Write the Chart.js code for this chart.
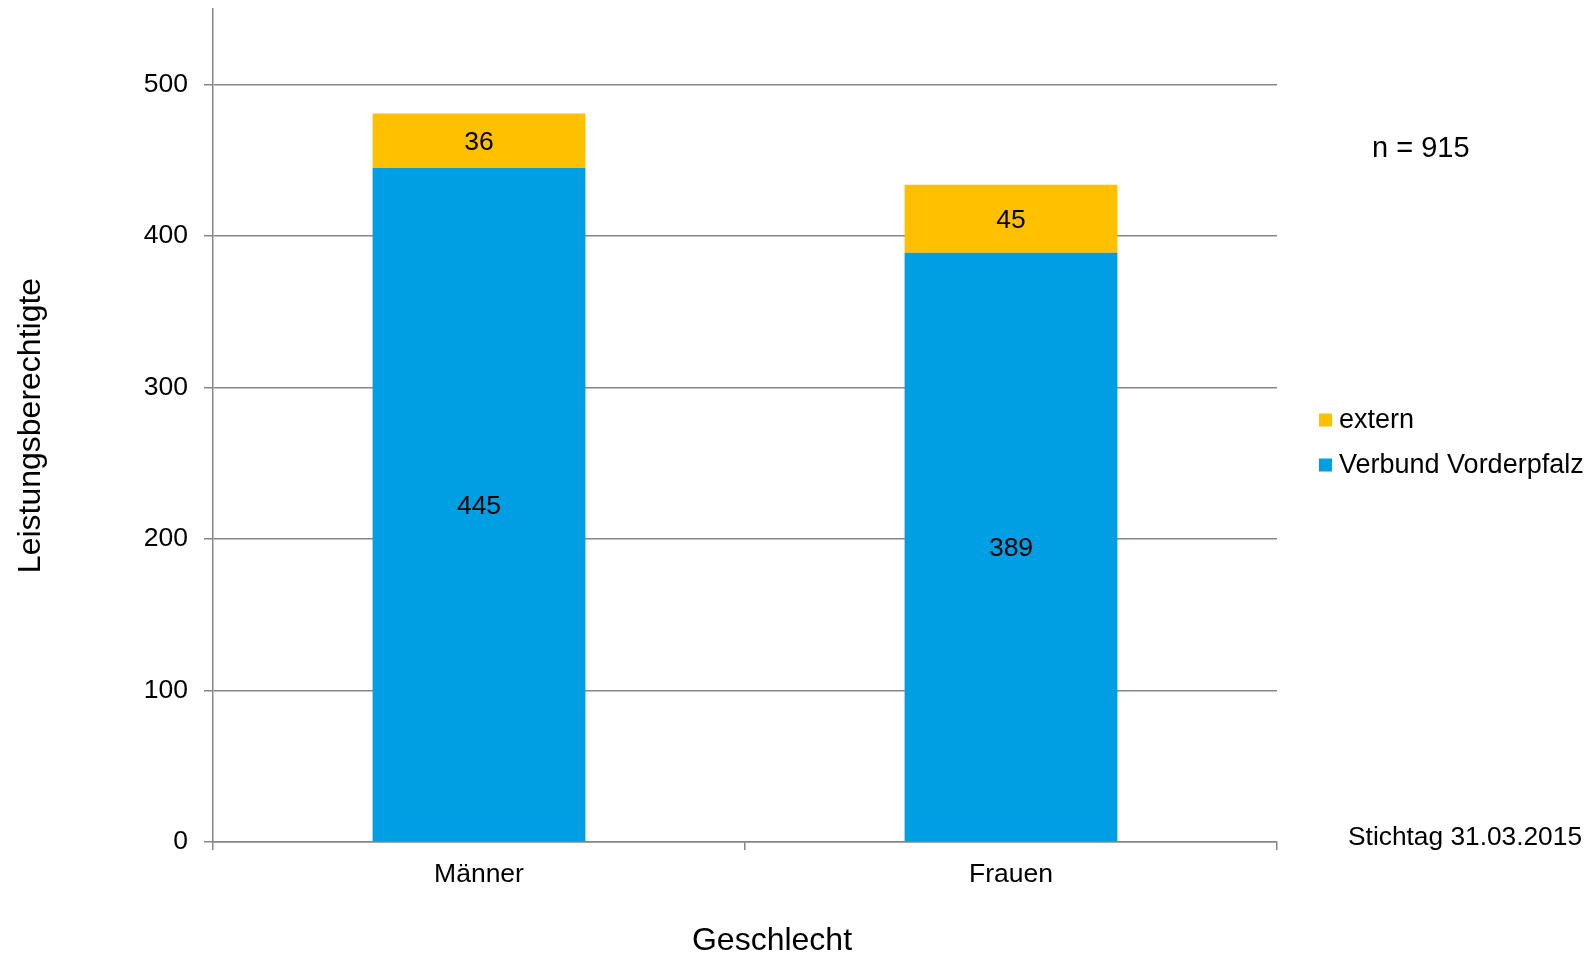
<!DOCTYPE html>
<html><head><meta charset="utf-8">
<script src="https://cdn.jsdelivr.net/npm/chart.js@4/dist/chart.umd.min.js"></script>
<style>html,body{margin:0;padding:0;background:#fff}#wrap{width:1589px;height:954px}</style>
</head><body><div id="wrap"><canvas id="c" width="1589" height="954"></canvas></div>
<script>
const categories = ['Männer', 'Frauen'];
const verbund = [445, 389];
const extern = [36, 45];
const seriesNames = ['Verbund Vorderpfalz', 'extern'];
const seriesColors = ['#009FE3', '#FFC000'];
const yTickValues = [0, 100, 200, 300, 400, 500];
const xTitle = 'Geschlecht';
const yTitle = 'Leistungsberechtigte';
const nText = 'n = 915';
const dateText = 'Stichtag 31.03.2015';

const FONT = '"Liberation Sans", Arial, Helvetica, sans-serif';
const GRID = '#868686';

const overlay = {
  id: 'overlay',
  afterDatasetsDraw(chart) {
    const ctx = chart.ctx;
    const ca = chart.chartArea;
    ctx.save();
    ctx.font = '26.5px ' + FONT;
    ctx.fillStyle = '#000';
    ctx.textAlign = 'center';
    ctx.textBaseline = 'middle';
    chart.data.datasets.forEach((ds, i) => {
      chart.getDatasetMeta(i).data.forEach((bar, j) => {
        ctx.fillText(String(ds.data[j]), bar.x, (bar.y + bar.base) / 2 + 2);
      });
    });
    // x axis title
    ctx.font = '32px ' + FONT;
    ctx.fillText(xTitle, 772, 941);
    // legend (reverse order)
    ctx.font = '27px ' + FONT;
    const items = chart.data.datasets.slice().reverse();
    const bx = ca.right + 42;
    items.forEach((ds, k) => {
      const cy = 420 + k * 45;
      ctx.fillStyle = ds.backgroundColor;
      ctx.fillRect(bx, cy - 6.5, 13, 13);
      ctx.fillStyle = '#000';
      ctx.textAlign = 'left';
      ctx.fillText(ds.label, bx + 20, cy + 1);
    });
    ctx.textAlign = 'left';
    ctx.font = '29px ' + FONT;
    ctx.fillText(nText, 1372, 149);
    ctx.font = '26.3px ' + FONT;
    ctx.textAlign = 'right';
    ctx.fillText(dateText, 1582, 838);
    ctx.restore();
  }
};

new Chart(document.getElementById('c'), {
  type: 'bar',
  data: {
    labels: categories,
    datasets: [
      { label: seriesNames[0], data: verbund, backgroundColor: seriesColors[0], barPercentage: 0.4, categoryPercentage: 1 },
      { label: seriesNames[1], data: extern, backgroundColor: seriesColors[1], barPercentage: 0.4, categoryPercentage: 1 }
    ]
  },
  options: {
    responsive: false,
    animation: false,
    devicePixelRatio: 1,
    layout: { padding: { left: 0, right: 312, top: 9, bottom: 0 } },
    plugins: { legend: { display: false }, tooltip: { enabled: false } },
    scales: {
      x: {
        stacked: true,
        grid: { display: true, drawOnChartArea: false, drawTicks: true, tickLength: 8, color: GRID, lineWidth: 1.5, offset: true },
        border: { display: true, color: GRID, width: 1.5 },
        ticks: { color: '#000', font: { family: FONT, size: 26.5 }, padding: 9 },
        title: { display: false, text: xTitle },
        afterFit: s => { s.height = 112; s.paddingLeft = 0; s.paddingRight = 0; }
      },
      y: {
        stacked: true,
        min: 0,
        max: 550,
        afterBuildTicks: s => { s.ticks = yTickValues.map(v => ({ value: v })); },
        ticks: { stepSize: 100, includeBounds: false, color: '#000', font: { family: FONT, size: 26.5 }, padding: 16 },
        grid: { color: GRID, lineWidth: 1.5, tickLength: 9 },
        border: { display: true, color: GRID, width: 1.5 },
        title: { display: true, text: yTitle, color: '#000', font: { family: FONT, size: 32, lineHeight: 1 }, padding: { top: 15, bottom: 0 } },
        afterFit: s => { s.width = 213; s.paddingTop = 0; s.paddingBottom = 0; }
      }
    }
  },
  plugins: [overlay]
});
</script>
</body></html>
